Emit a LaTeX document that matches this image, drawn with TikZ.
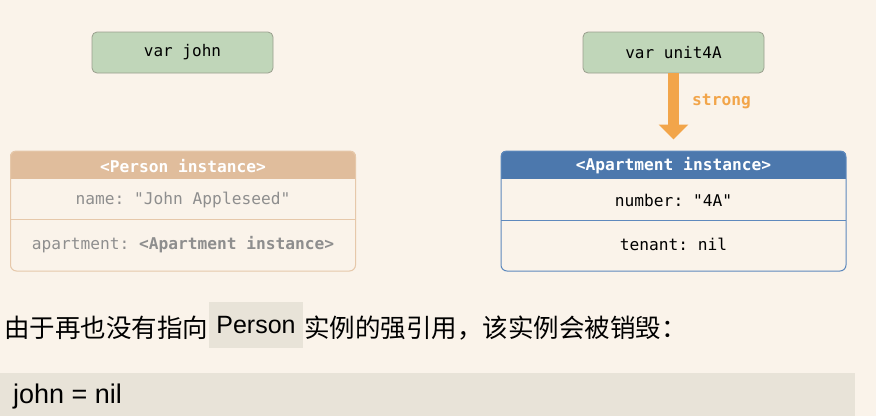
\documentclass[tikz,border=0pt]{standalone}
\usepackage{fontspec}
\setmainfont{Liberation Sans}
\setmonofont{DejaVu Sans Mono}
\newfontfamily\cjk{Noto Sans CJK SC}
\usetikzlibrary{arrows.meta}
\definecolor{bg}{HTML}{FAF3EA}
\definecolor{varfill}{HTML}{C0D6B9}
\definecolor{vardraw}{HTML}{9A9F8E}
\definecolor{tanhead}{HTML}{E0BD9C}
\definecolor{tanline}{HTML}{E6C8AA}
\definecolor{greytext}{HTML}{8E8E8E}
\definecolor{bluehead}{HTML}{4C78AD}
\definecolor{blueline}{HTML}{5E89BD}
\definecolor{orangearrow}{HTML}{F2A54A}
\definecolor{codebg}{HTML}{E8E3D8}
\tikzset{
  varbox/.style={draw=vardraw, fill=varfill, rounded corners=5pt, line width=0.8pt,
    minimum width=181pt, minimum height=41pt, inner sep=0pt,
    font=\ttfamily\fontsize{16}{18}\selectfont},
  instbox/.style={rounded corners=6pt, line width=1pt,
    minimum width=345pt, minimum height=120pt, inner sep=0pt},
  monotext/.style={inner sep=0pt, font=\ttfamily\fontsize{16.2}{18}\selectfont},
  headtext/.style={inner sep=0pt, text=white, font=\ttfamily\bfseries\fontsize{16.2}{18}\selectfont},
  cjktext/.style={inner sep=0pt, font=\cjk\fontsize{25.5}{28}\selectfont},
}
\begin{document}
\begin{tikzpicture}[x=1pt,y=-1pt]
\fill[bg] (0,0) rectangle (876,416);
\useasboundingbox (0,0) rectangle (876,416);

% variable boxes
\node[varbox] (john) at (182.5,52.5) {var john};
\node[varbox] (unit) at (673.5,52.5) {var unit4A};

% Person instance
\node[instbox] (person) at (183,211) {};
\begin{scope}
  \clip[rounded corners=6pt] (person.north west) rectangle (person.south east);
  \fill[tanhead] (person.north west) rectangle ([yshift=-28pt]person.north east);
\end{scope}
\node[instbox, draw=tanline] at (person.center) {};
\draw[tanline, line width=1pt] (10.5,219.5) -- (355.5,219.5);
\node[headtext] (phead) at (183,166) {<Person instance>};
\node[monotext, text=greytext] (pname) at (183,200) {name: \char34 John Appleseed\char34};
\node[monotext, text=greytext] (papt) at (183,245) {apartment: \textbf{<Apartment instance>}};

% Apartment instance
\node[instbox] (apt) at (673.5,211) {};
\begin{scope}
  \clip[rounded corners=6pt] (apt.north west) rectangle (apt.south east);
  \fill[bluehead] (apt.north west) rectangle ([yshift=-28pt]apt.north east);
\end{scope}
\node[instbox, draw=blueline] at (apt.center) {};
\draw[blueline, line width=1pt] (501,220.5) -- (846,220.5);
\node[headtext] (ahead) at (673.5,166) {<Apartment instance>};
\node[monotext] (anum) at (673.5,200) {number: \char34 4A\char34};
\node[monotext] (aten) at (673.5,244) {tenant: nil};

% strong arrow
\draw[orangearrow, line width=11pt, -{Triangle[width=29pt,length=15pt]}, shorten >=11pt]
  (unit.south) -- (apt.north);
\node[inner sep=0pt, text=orangearrow, font=\ttfamily\bfseries\fontsize{16.2}{18}\selectfont]
  (strong) at (721.5,101) {strong};

% explanatory sentence
\node[cjktext, anchor=base west] (s1) at (4,337) {由于再也没有指向};
\node[fill=codebg, minimum width=94pt, minimum height=46pt, inner sep=0pt,
  font=\fontsize{25}{28}\selectfont] (pword) at (256,325) {Person};
\node[cjktext, anchor=base west] (s2) at (304,337) {实例的强引用，该实例会被销毁：};

% code block
\fill[codebg] (0,373) rectangle (855,416);
\node[inner sep=0pt, anchor=base west, font=\fontsize{27}{30}\selectfont] (code) at (13,403) {john = nil};
\end{tikzpicture}
\end{document}
